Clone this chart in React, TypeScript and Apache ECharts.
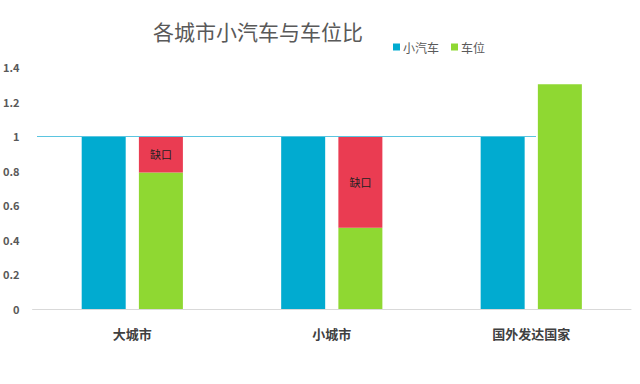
import React, { useEffect, useRef } from "react";
import * as echarts from "echarts";

const categories = ["大城市", "小城市", "国外发达国家"];
const carValues = [1, 1, 1];
const parkingValues = [0.79, 0.47, 1.3];
const gapValues = [0.21, 0.53, null];
const yTicks = { min: 0, max: 1.4, interval: 0.2 };

export default function App() {
  const ref = useRef<HTMLDivElement>(null);
  useEffect(() => {
    const chart = echarts.init(ref.current!, undefined, { renderer: "svg" });
    const font = "'Noto Sans CJK SC', 'Noto Sans', sans-serif";
    chart.setOption({
      animation: false,
      backgroundColor: "#ffffff",
      textStyle: { fontFamily: font },
      title: {
        text: "各城市小汽车与车位比",
        left: 148,
        top: 15,
        textStyle: { fontSize: 21, fontWeight: "normal", color: "#595959", fontFamily: font },
      },
      legend: {
        data: ["小汽车", "车位"],
        left: 388,
        top: 36,
        itemWidth: 7,
        itemHeight: 7,
        itemGap: 12,
        icon: "rect",
        textStyle: { fontSize: 12, color: "#595959", fontFamily: font, padding: [0, 0, 0, -2] },
      },
      grid: { left: 32, right: 9, top: 67, bottom: 75 },
      xAxis: {
        type: "category",
        data: categories,
        axisLine: { lineStyle: { color: "#d9d9d9" } },
        axisTick: { show: false },
        axisLabel: { fontSize: 13, fontWeight: "bold", color: "#404040", margin: 18, fontFamily: font },
      },
      yAxis: {
        type: "value",
        min: yTicks.min,
        max: yTicks.max,
        interval: yTicks.interval,
        splitLine: { show: false },
        axisLine: { show: false },
        axisTick: { show: false },
        axisLabel: { fontSize: 11, fontWeight: "bold", color: "#595959", margin: 13, fontFamily: font },
      },
      series: [
        {
          name: "小汽车",
          type: "bar",
          data: carValues,
          barWidth: 44,
          barGap: "30%",
          itemStyle: { color: "#01abd0" },
          markLine: {
            silent: true,
            symbol: "none",
            label: { show: false },
            lineStyle: { color: "#5bc5e0", width: 1, type: "solid" },
            data: [[{ x: 37, yAxis: 1 }, { x: 536, yAxis: 1 }]],
          },
        },
        {
          name: "车位",
          type: "bar",
          stack: "p",
          data: parkingValues,
          barWidth: 44,
          itemStyle: { color: "#8fd832" },
        },
        {
          name: "缺口",
          type: "bar",
          stack: "p",
          data: gapValues,
          barWidth: 44,
          itemStyle: { color: "#ea3c52" },
          label: {
            show: true,
            position: "inside",
            formatter: "缺口",
            fontSize: 11,
            color: "#222222",
            fontFamily: font,
          },
        },
      ],
    });
    return () => chart.dispose();
  }, []);
  return <div ref={ref} style={{ width: 640, height: 384, position: "absolute", left: 0, top: 0 }} />;
}
